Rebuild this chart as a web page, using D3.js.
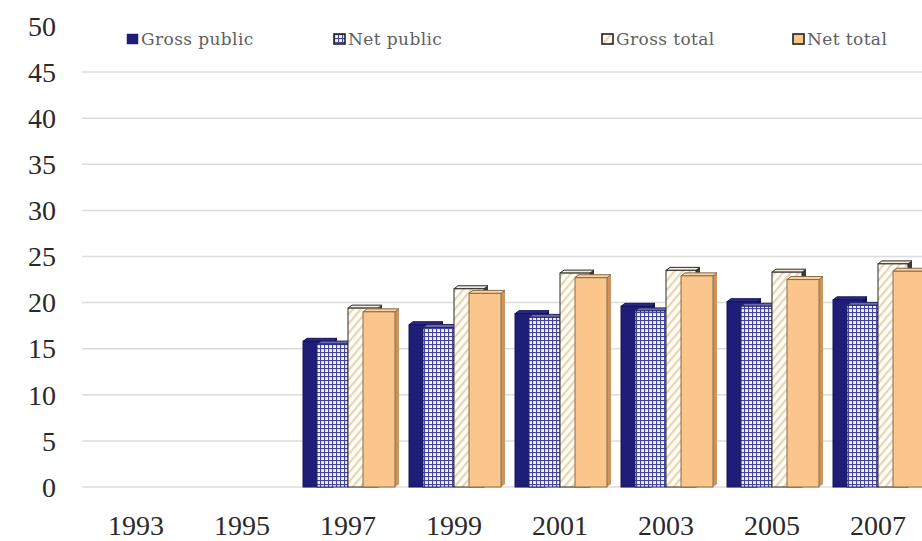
<!DOCTYPE html>
<html>
<head>
<meta charset="utf-8" />
<title>Gross and net</title>
<script src="https://cdn.jsdelivr.net/npm/d3@7"></script>
<style>
  body { margin: 0; background: #fff; }
</style>
</head>
<body>
<script>

var years = ["1993", "1995", "1997", "1999", "2001", "2003", "2005", "2007"];
var seriesNames = ["Gross public", "Net public", "Gross total", "Net total"];
var grossPublic = [null, null, 15.8, 17.6, 18.8, 19.6, 20.1, 20.3];
var netPublic   = [null, null, 15.5, 17.3, 18.4, 19.1, 19.6, 19.7];
var grossTotal  = [null, null, 19.4, 21.5, 23.2, 23.5, 23.3, 24.2];
var netTotal    = [null, null, 19.0, 21.0, 22.7, 22.9, 22.5, 23.4];
var yTicks = [0, 5, 10, 15, 20, 25, 30, 35, 40, 45, 50];

var values = [grossPublic, netPublic, grossTotal, netTotal];

var W = 922, H = 541;
var svg = d3.select("body").append("svg")
  .attr("width", W)
  .attr("height", H);

var defs = svg.append("defs");

// checkered fill for net public
var p1 = defs.append("pattern")
  .attr("id", "grid")
  .attr("width", 4).attr("height", 4)
  .attr("patternUnits", "userSpaceOnUse");
p1.append("rect").attr("width", 4).attr("height", 4).attr("fill", "#f2f2fb");
p1.append("rect").attr("width", 4).attr("height", 1.1).attr("fill", "#45459a");
p1.append("rect").attr("width", 1.1).attr("height", 4).attr("fill", "#45459a");

// light diagonal stripes for gross total
var p2 = defs.append("pattern")
  .attr("id", "stripe")
  .attr("width", 6).attr("height", 6)
  .attr("patternUnits", "userSpaceOnUse")
  .attr("patternTransform", "rotate(40)");
p2.append("rect").attr("width", 6).attr("height", 6).attr("fill", "#fffdf7");
p2.append("rect").attr("width", 2.2).attr("height", 6).attr("fill", "#e6d6b4");

var fills = ["#1e1e78", "url(#grid)", "url(#stripe)", "#fbc68c"];
var sideFills = ["#12124e", "#2a2a6a", "#3a3a3a", "#c99660"];
var topFills = ["#2a2a86", "#6a6aa8", "#f4ecdc", "#f7d3a6"];
var strokes = ["#14145a", "#25256a", "#2a2a2a", "#8a6a48"];

var x = d3.scaleBand()
  .domain(years)
  .range([83, 931]);

var y = d3.scaleLinear()
  .domain([0, 50])
  .range([487, 26]);

// gridlines
svg.append("g")
  .selectAll("line")
  .data(yTicks.slice(0, -1))
  .enter()
  .append("line")
  .attr("x1", 82).attr("x2", W)
  .attr("y1", function(d){ return y(d); })
  .attr("y2", function(d){ return y(d); })
  .attr("stroke", "#dcdcdc")
  .attr("stroke-width", 1.5);

// y axis labels
var yAxis = svg.append("g")
  .attr("transform", "translate(56,0)")
  .call(d3.axisLeft(y).tickValues(yTicks).tickSize(0).tickPadding(0));
yAxis.select(".domain").remove();
yAxis.selectAll("text")
  .attr("font-family", "Liberation Serif, serif")
  .attr("font-size", "28px")
  .attr("fill", "#2a2a2a")
  .attr("dy", "0.33em");

// x axis labels
var xAxis = svg.append("g")
  .attr("transform", "translate(0,487)")
  .call(d3.axisBottom(x).tickSize(0).tickPadding(28));
xAxis.select(".domain").remove();
xAxis.selectAll("text")
  .attr("font-family", "Liberation Serif, serif")
  .attr("font-size", "28px")
  .attr("fill", "#2a2a2a");

// bar placement inside a group (relative to band centre)
var offsets = [-45, -31, 0, 15];
var barW = [30, 31, 30, 32];
var dx = 4, dy = 3;

var bars = svg.append("g");
years.forEach(function(yr, i) {
  values.forEach(function(vals, s) {
    var v = vals[i];
    if (v == null) return;
    var x0 = x(yr) + x.bandwidth() / 2 + offsets[s];
    var w = barW[s];
    var top = y(v), base = y(0);
    var g = bars.append("g");
    // right side face
    g.append("path")
      .attr("d", "M" + (x0 + w) + "," + top + "L" + (x0 + w + dx) + "," + (top - dy) +
                 "L" + (x0 + w + dx) + "," + (base - dy) + "L" + (x0 + w) + "," + base + "Z")
      .attr("fill", sideFills[s]);
    // top face
    g.append("path")
      .attr("d", "M" + x0 + "," + top + "L" + (x0 + dx) + "," + (top - dy) +
                 "L" + (x0 + w + dx) + "," + (top - dy) + "L" + (x0 + w) + "," + top + "Z")
      .attr("fill", topFills[s])
      .attr("stroke", strokes[s])
      .attr("stroke-width", 1);
    // front face
    g.append("rect")
      .attr("x", x0).attr("y", top)
      .attr("width", w).attr("height", base - top)
      .attr("fill", fills[s])
      .attr("stroke", strokes[s])
      .attr("stroke-width", 1);
  });
});

// legend
var legendX = [127, 334, 602, 793];
var legend = svg.append("g");
seriesNames.forEach(function(name, s) {
  var lg = legend.append("g").attr("transform", "translate(" + legendX[s] + ",34)");
  lg.append("rect")
    .attr("width", 11).attr("height", 10)
    .attr("fill", fills[s])
    .attr("stroke", s == 0 ? "#1e1e78" : "#222")
    .attr("stroke-width", s == 0 ? 0.5 : 1.6);
  lg.append("text")
    .attr("x", 14).attr("y", 11)
    .attr("font-family", "DejaVu Serif, serif")
    .attr("font-size", "17px")
    .attr("letter-spacing", "0.4px")
    .attr("fill", "#606060")
    .text(name);
});

</script>
</body>
</html>
